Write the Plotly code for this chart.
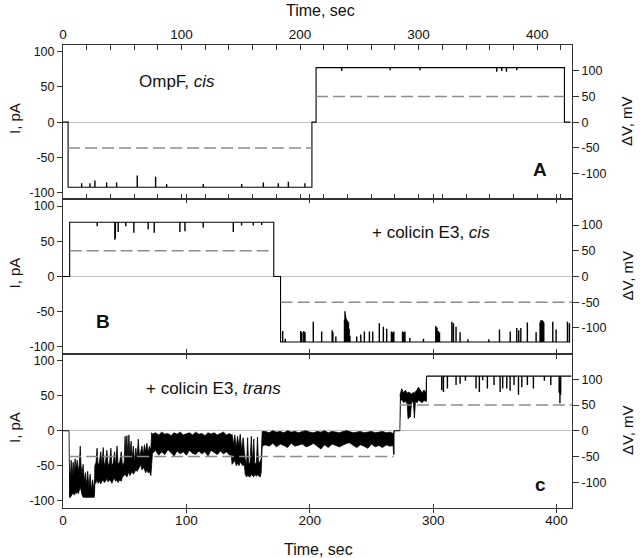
import plotly.graph_objects as go

FONT = "Liberation Sans, Arial, sans-serif"

# ---------------- Panel A : OmpF, cis ----------------
A_break_t = [0.0, 4.3, 210.0, 213.5, 423.0, 428.0]
A_level_pA = [0, -92, 0, 77, 0]
A_spike_t = [15.6, 22.6, 26.8, 36.7, 45.1, 62.5, 78.0, 87.3, 118.2, 150.6, 168.9, 181.5, 190.0, 204.0,
             235.0, 275.8, 301.0, 365.8, 370.0, 374.0, 382.7]
A_spike_pA = [-87, -87, -83, -86, -86, -76, -78, -88, -88, -88, -86, -87, -85, -87,
              73, 74, 74, 72, 73, 72, 74]
A_volt_start = [4.3, 213.5]
A_volt_end = [210.0, 423.0]
A_volt_mV = [-50, 50]

# ---------------- Panel B : + colicin E3, cis ----------------
B_break_t = [0.0, 5.4, 170.8, 176.3, 411.0]
B_level_pA = [0, 77, 0, -93]
B_spike_t = [27.6, 41.9, 42.3, 44.6, 50.8, 57.3, 68.9, 73.8, 94.6, 98.7, 113.5, 137.9, 144.6, 154.1, 160.9,
             177.9, 180.0, 192.5, 193.5, 195.0, 196.0, 202.7, 209.5, 218.0, 218.6, 221.0,
             228.0, 228.4, 228.8, 229.4, 230.0, 230.6, 231.2, 231.8, 232.4,
             237.9, 241.2, 244.1, 248.2, 250.9, 256.2, 259.5, 262.2, 266.0, 267.0, 268.0,
             275.0, 276.0, 277.0, 281.0, 292.0, 302.0, 303.0, 304.0, 305.0,
             315.0, 316.3, 318.4, 321.7, 328.0, 345.0, 353.6, 362.3, 367.6, 369.2, 370.9,
             376.2, 383.3, 386.5, 387.1, 387.7, 388.3, 388.9, 389.5, 396.8, 399.5, 408.7, 410.3]
B_spike_pA = [72, 53, 55, 64, 72, 63, 68, 63, 64, 65, 70, 64, 73, 73, 74,
              -78, -89, -78, -80, -78, -80, -65, -79, -77, -80, -86,
              -62, -50, -55, -60, -63, -64, -66, -75, -85,
              -86, -83, -79, -79, -79, -67, -72, -75, -79, -80, -79,
              -79, -80, -79, -88, -89, -71, -73, -78, -80,
              -65, -67, -72, -80, -90, -90, -76, -79, -74, -77, -74,
              -66, -80, -66, -63, -64, -63, -64, -66, -65, -76, -65, -67]
B_volt_start = [5.4, 176.3]
B_volt_end = [170.8, 412.5]
B_volt_mV = [50, -50]

# ---------------- Panel C : + colicin E3, trans ----------------
C_break_t = [0.0, 4.9, 268.3, 273.0, 294.6, 412.0]
C_level_pA = [0, None, 0, None, 78]
C_spike_t = [306.8, 308.2, 311.4, 318.4, 321.7, 326.0, 334.6, 337.3, 340.0, 343.8, 349.2, 354.1, 356.2,
             359.5, 362.2, 365.4, 369.0, 371.7, 376.2, 381.1, 390.0, 395.2, 402.0, 402.6, 403.2]
C_spike_pA = [59, 56, 61, 66, 68, 72, 61, 56, 73, 61, 66, 56, 61,
              61, 58, 66, 52, 63, 66, 61, 72, 66, 55, 40, 52]

# noisy band envelopes (time, upper edge, lower edge)
C_band1_t = [4.9, 5.1, 6.0, 6.6, 7.4, 8.2, 9.0, 9.8, 10.6, 11.5, 12.4, 13.2, 14.0, 14.6, 15.5, 16.3, 17.2,
             18.2, 19.0, 20.0, 21.0, 22.0, 23.0, 24.0, 25.4, 25.8, 26.8, 27.6, 28.4, 29.5, 30.6, 31.5,
             32.6, 33.4, 34.5, 35.6, 36.5, 37.8, 38.8, 39.6, 40.8, 41.8, 42.6, 43.8, 44.6, 46.0, 47.2,
             48.2, 49.6, 50.3, 51.0, 51.8, 52.6, 53.4, 54.2, 55.2, 56.0, 57.0, 58.0, 59.0, 60.0, 61.0,
             62.0, 63.0, 64.0, 65.0, 66.0, 67.0, 68.0, 69.0, 70.0, 71.2, 71.8,
             72.5, 75.0, 77.5, 80.0, 82.5, 85.0, 87.5, 90.0, 92.5, 95.0, 97.5, 100.0, 102.5, 105.0,
             107.5, 110.0, 112.5, 115.0, 117.5, 120.0, 122.5, 125.0, 127.5, 130.0, 132.5, 135.0, 136.4,
             137.0, 138.2, 139.2, 140.4, 141.4, 142.6, 143.6, 144.8, 146.0, 147.0,
             147.6, 148.8, 149.6, 150.4, 151.6, 152.6, 153.4, 154.6, 155.4, 156.8, 157.6, 158.4,
             159.8, 160.6, 161.4,
             164, 167, 170, 173, 176, 179, 182, 185, 188, 191, 194, 197, 200, 203, 206, 209, 212,
             215, 218, 221, 224, 227, 230, 232, 235, 238, 241, 244, 247, 250, 253, 256, 259, 262,
             265, 267.5, 268.0, 268.3]
C_band1_hi = [0, -45, -70, -42, -65, -45, -62, -40, -55, -42, -58, -48, -22, -50, -62, -48, -72,
              -60, -78, -58, -82, -62, -85, -70, -88, -50, -45, -25, -50, -45, -30, -50,
              -24, -50, -44, -28, -50, -45, -25, -50, -46, -30, -50, -22, -48, -45, -30,
              -50, -45, -8, -35, -7, -40, -6, -35, -15, -40, -22, -45, -25, -40, -12,
              -38, -30, -22, -35, -20, -30, -18, -32, -22, -28, -3,
              -5, -3, -6, -2, -5, -4, -7, -3, -5, -2, -6, -4, -3, -6,
              -2, -5, -4, -7, -3, -5, -3, -6, -4, -2, -6, -4, -6,
              -5, -20, -6, -25, -8, -22, -5, -28, -10, -30,
              -40, -48, -10, -48, -45, -8, -46, -12, -48, -45, -9, -46,
              -44, -40, -1,
              -1, -3, 0, -2, -1, -3, 0, -2, -1, -3, -1, 0, -2, -3, -1, -2, 0,
              -3, -1, -2, -3, -1, 0, -1, -3, -2, -1, -3, -2, -1, -3, -2, -1, -3,
              -2, -4, -4, 0]
C_band1_lo = [-95, -95, -95, -93, -90, -88, -92, -88, -90, -86, -90, -85, -80, -86, -92, -95, -95,
              -95, -95, -95, -95, -95, -95, -95, -95, -76, -74, -70, -75, -72, -76, -72,
              -70, -74, -72, -68, -73, -70, -72, -75, -70, -68, -72, -70, -74, -70, -72,
              -66, -64, -62, -64, -66, -62, -58, -64, -60, -58, -62, -60, -56, -58, -55,
              -52, -48, -56, -52, -55, -60, -56, -60, -58, -64, -62,
              -32, -28, -35, -30, -34, -27, -31, -36, -29, -33, -30, -35, -28, -32,
              -34, -29, -33, -30, -36, -28, -31, -34, -29, -33, -30, -35, -34,
              -48, -45, -42, -50, -46, -50, -44, -48, -50, -47,
              -62, -66, -64, -64, -66, -62, -64, -66, -62, -65, -63, -64,
              -66, -60, -22,
              -20, -22, -18, -23, -19, -21, -24, -18, -22, -20, -19, -23, -21, -18, -22, -26, -20,
              -24, -19, -21, -23, -20, -18, -17, -21, -24, -20, -22, -25, -19, -23, -21, -24, -20,
              -22, -21, -34, -34]

C_band2_t = [273.0, 273.5, 274.5, 276.0, 277.5, 279.0, 279.6, 281.5, 282.5, 284.0, 284.8, 285.6,
             287.0, 288.0, 289.5, 291.0, 292.5, 294.2, 294.6]
C_band2_hi = [50, 55, 60, 54, 58, 53, 55, 54, 52, 55, 53, 56, 58, 62, 57, 54, 58, 54, 78]
C_band2_lo = [0, 42, 45, 40, 42, 38, 17, 20, 42, 40, 18, 42, 40, 44, 42, 40, 43, 42, 42]

C_volt_start = [5.0, 273.0]
C_volt_end = [268.0, 412.5]
C_volt_mV = [-50, 50]

X_TICKS = [0, 100, 200, 300, 400]
Y_TICKS = [-100, -50, 0, 50, 100]
Y_TICKTEXT = ["-100", "-50", "0", "50", "100"]

# ---------------- layout geometry (pixels) ----------------
W, H = 640, 558
ML, MR, MT, MB = 63, 68, 45, 50
PW, PH = W - ML - MR, H - MT - MB


def px_to_paper(px, py):
    return (px - ML) / PW, (H - MB - py) / PH


def step_trace(break_t, levels, spike_t, spike_v, width=0.25):
    xs, ys = [], []
    spikes = sorted(zip(spike_t, spike_v))
    n = len(levels)
    for k in range(n):
        t0, t1, lv = break_t[k], break_t[k + 1], levels[k]
        if lv is None:
            xs.append(None)
            ys.append(None)
            continue
        xs.append(t0)
        ys.append(lv)
        for st, sv in spikes:
            if t0 < st < t1:
                xs += [st, st + width]
                ys += [sv, lv]
        if k == n - 1 or levels[k + 1] is None:
            xs.append(t1)
            ys.append(lv)
    return xs, ys


def volt_trace(starts, ends, vals):
    xs, ys = [], []
    for s, e, v in zip(starts, ends, vals):
        xs += [s, e, None]
        ys += [v, v, None]
    return xs, ys


fig = go.Figure()

panels = [
    dict(xa="x", ya="y", ya2="y2", brk=A_break_t, lev=A_level_pA, st=A_spike_t, sv=A_spike_pA,
         vs=A_volt_start, ve=A_volt_end, vv=A_volt_mV),
    dict(xa="x2", ya="y3", ya2="y4", brk=B_break_t, lev=B_level_pA, st=B_spike_t, sv=B_spike_pA,
         vs=B_volt_start, ve=B_volt_end, vv=B_volt_mV),
    dict(xa="x3", ya="y5", ya2="y6", brk=C_break_t, lev=C_level_pA, st=C_spike_t, sv=C_spike_pA,
         vs=C_volt_start, ve=C_volt_end, vv=C_volt_mV),
]

for p in panels:
    vx, vy = volt_trace(p["vs"], p["ve"], p["vv"])
    fig.add_trace(go.Scatter(x=vx, y=vy, xaxis=p["xa"], yaxis=p["ya2"], mode="lines",
                             line=dict(color="#8c8c8c", width=1.5, dash="12px,5px"),
                             hoverinfo="skip", showlegend=False))

# noisy bands in panel C
for bt, bh, bl in [(C_band1_t, C_band1_hi, C_band1_lo), (C_band2_t, C_band2_hi, C_band2_lo)]:
    fig.add_trace(go.Scatter(x=list(bt) + list(bt)[::-1], y=list(bh) + list(bl)[::-1],
                             xaxis="x3", yaxis="y5", mode="lines", fill="toself",
                             fillcolor="black", line=dict(color="black", width=0.8),
                             hoverinfo="skip", showlegend=False))

for p in panels:
    cx, cy = step_trace(p["brk"], p["lev"], p["st"], p["sv"])
    fig.add_trace(go.Scatter(x=cx, y=cy, xaxis=p["xa"], yaxis=p["ya"], mode="lines",
                             line=dict(color="black", width=1.1, shape="hv"),
                             hoverinfo="skip", showlegend=False))

tickfont = dict(family=FONT, size=12.5, color="#111")
xtickfont = dict(family=FONT, size=13.5, color="#111")
LINE = "#333"

common_y = dict(tickvals=Y_TICKS, ticktext=Y_TICKTEXT, ticks="outside", ticklen=5, tickcolor=LINE,
                showline=True, linecolor=LINE, linewidth=1, mirror=True, showgrid=False, zeroline=True,
                zerolinecolor="#c4c4c4", zerolinewidth=1, tickfont=tickfont)
common_y2 = dict(tickvals=Y_TICKS, ticktext=Y_TICKTEXT, ticks="outside", ticklen=6, tickcolor=LINE,
                 showline=False, showgrid=False, zeroline=False, side="right", range=[-150, 150],
                 tickfont=tickfont)

domains = [[2 / 3, 1.0], [1 / 3, 2 / 3], [0.0, 1 / 3]]
yr = [[-109, 109], [-109.5, 109.5], [-110.3, 110]]

fig.update_layout(
    width=W, height=H, margin=dict(l=ML, r=MR, t=MT, b=MB, autoexpand=False),
    paper_bgcolor="white", plot_bgcolor="white",
    font=dict(family=FONT, color="#111"),
    xaxis=dict(domain=[0, 1], anchor="y", side="top", range=[0, 429.4], tickvals=X_TICKS,
               ticks="inside", ticklen=5, tickcolor=LINE, showline=True, linecolor=LINE,
               mirror="allticks", showgrid=False, zeroline=False, tickfont=xtickfont,
               minor=dict(dtick=20, tick0=0, ticks="inside", ticklen=3, tickcolor=LINE, showgrid=False)),
    xaxis2=dict(domain=[0, 1], anchor="y3", range=[0, 412.5], tickvals=X_TICKS[1:],
                ticks="inside", ticklen=4, tickcolor=LINE, showline=True, linecolor=LINE,
                mirror="allticks", showgrid=False, zeroline=False, showticklabels=False),
    xaxis3=dict(domain=[0, 1], anchor="y5", range=[0, 412.5], tickvals=X_TICKS,
                ticks="inside", ticklen=4, tickcolor=LINE, showline=True, linecolor=LINE,
                mirror="allticks", showgrid=False, zeroline=False, tickfont=xtickfont),
    yaxis=dict(domain=domains[0], anchor="x", range=yr[0], **common_y),
    yaxis2=dict(anchor="x", overlaying="y", **common_y2),
    yaxis3=dict(domain=domains[1], anchor="x2", range=yr[1], **common_y),
    yaxis4=dict(anchor="x2", overlaying="y3", **common_y2),
    yaxis5=dict(domain=domains[2], anchor="x3", range=yr[2], **common_y),
    yaxis6=dict(anchor="x3", overlaying="y5", **common_y2),
)

annotations = []
# axis titles
for cy in [122.0, 276.5, 431.0]:
    x, y = px_to_paper(14, cy - 3)
    annotations.append(dict(text="I, pA", x=x, y=y, xref="paper", yref="paper", showarrow=False,
                            textangle=-90, font=dict(family=FONT, size=15, color="#111"),
                            xanchor="center", yanchor="middle"))
    x, y = px_to_paper(627, cy)
    annotations.append(dict(text="ΔV, mV", x=x, y=y, xref="paper", yref="paper", showarrow=False,
                            textangle=-90, font=dict(family=FONT, size=15, color="#111"),
                            xanchor="center", yanchor="middle"))
x, y = px_to_paper(320, 10)
annotations.append(dict(text="Time, sec", x=x, y=y, xref="paper", yref="paper", showarrow=False,
                        font=dict(family=FONT, size=16, color="#111"), xanchor="center", yanchor="middle"))
x, y = px_to_paper(318, 549)
annotations.append(dict(text="Time, sec", x=x, y=y, xref="paper", yref="paper", showarrow=False,
                        font=dict(family=FONT, size=16, color="#111"), xanchor="center", yanchor="middle"))

# panel texts (data coordinates)
annotations += [
    dict(text="OmpF, <i>cis</i>", x=96, y=58, xref="x", yref="y", showarrow=False,
         font=dict(family=FONT, size=17, color="#111")),
    dict(text="+ colicin E3, <i>cis</i>", x=298, y=63, xref="x2", yref="y3", showarrow=False,
         font=dict(family=FONT, size=17, color="#111")),
    dict(text="+ colicin E3, <i>trans</i>", x=122, y=60, xref="x3", yref="y5", showarrow=False,
         font=dict(family=FONT, size=17, color="#111")),
    dict(text="<b>A</b>", x=402, y=-67, xref="x", yref="y", showarrow=False,
         font=dict(family=FONT, size=19, color="#111")),
    dict(text="<b>B</b>", x=32.4, y=-64, xref="x2", yref="y3", showarrow=False,
         font=dict(family=FONT, size=19, color="#111")),
    dict(text="<b>c</b>", x=387, y=-77, xref="x3", yref="y5", showarrow=False,
         font=dict(family=FONT, size=19, color="#111")),
]
fig.update_layout(annotations=annotations)

fig.write_html("out.html", config={"displayModeBar": False},
               post_script="document.body.style.margin='0px';")
